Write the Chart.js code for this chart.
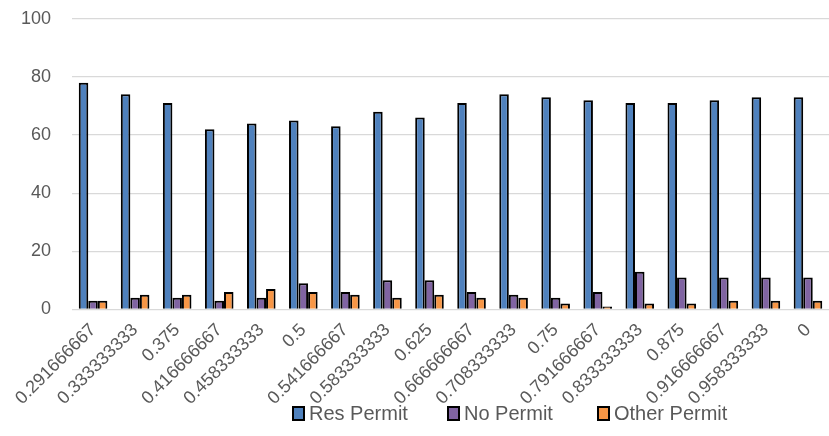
<!DOCTYPE html>
<html lang="en">
<head>
    <meta charset="UTF-8">
    <title>Permit chart</title>
    <script src="https://cdn.jsdelivr.net/npm/chart.js"></script>
    <style>
        body {
            margin: 0;
            background: white;
        }

        .chart-wrap {
            position: relative;
            width: 829px;
            height: 436px;
            overflow: hidden;
        }

        #permitChart {
            position: absolute;
            left: 0;
            top: -13px;
        }

        .legend-item {
            position: absolute;
            top: 402px;
            display: flex;
            align-items: center;
            gap: 4px;
            font-family: "Liberation Sans", Arial, sans-serif;
            font-size: 20px;
            color: #595959;
        }

        .legend-color {
            width: 9px;
            height: 11px;
            border: 2px solid #000;
        }
    </style>
</head>
<body>
    <div class="chart-wrap">
        <canvas id="permitChart" width="829" height="448"></canvas>
        <div class="legend-item" style="left:292px"><span class="legend-color" style="background:#4F81BD"></span>Res Permit</div>
        <div class="legend-item" style="left:447px"><span class="legend-color" style="background:#8064A2"></span>No Permit</div>
        <div class="legend-item" style="left:597px"><span class="legend-color" style="background:#F79646"></span>Other Permit</div>
    </div>

    <script>
        const categories = ['0.291666667', '0.333333333', '0.375', '0.416666667', '0.458333333', '0.5',
            '0.541666667', '0.583333333', '0.625', '0.666666667', '0.708333333', '0.75',
            '0.791666667', '0.833333333', '0.875', '0.916666667', '0.958333333', '0'];
        const resPermit = [78, 74, 71, 62, 64, 65, 63, 68, 66, 71, 74, 73, 72, 71, 71, 72, 73, 73];
        const noPermit = [3, 4, 4, 3, 4, 9, 6, 10, 10, 6, 5, 4, 6, 13, 11, 11, 11, 11];
        const otherPermit = [3, 5, 5, 6, 7, 6, 5, 4, 5, 4, 4, 2, 1, 2, 2, 3, 3, 3];
        const yTicks = [0, 20, 40, 60, 80, 100];

        const font = { family: '"Liberation Sans", Arial, sans-serif', size: 18 };

        new Chart(document.getElementById('permitChart'), {
            type: 'bar',
            data: {
                labels: categories,
                datasets: [
                    { label: 'Res Permit', data: resPermit, backgroundColor: '#4F81BD' },
                    { label: 'No Permit', data: noPermit, backgroundColor: '#8064A2' },
                    { label: 'Other Permit', data: otherPermit, backgroundColor: '#F79646' }
                ].map(d => Object.assign(d, {
                    borderColor: '#000',
                    borderWidth: 2,
                    categoryPercentage: 0.68,
                    barPercentage: 1
                }))
            },
            options: {
                responsive: false,
                animation: false,
                layout: { padding: { top: 0, right: 0, bottom: 24, left: 0 } },
                plugins: {
                    legend: { display: false },
                    tooltip: { enabled: false }
                },
                scales: {
                    x: {
                        grid: { display: false },
                        border: { display: false },
                        ticks: {
                            color: '#595959',
                            font: font,
                            maxRotation: 45,
                            minRotation: 45,
                            autoSkip: false,
                            padding: 2
                        }
                    },
                    y: {
                        min: 0,
                        max: 100,
                        afterBuildTicks: axis => { axis.ticks = yTicks.map(v => ({ value: v })); },
                        grid: { color: '#d9d9d9', lineWidth: 1.3, drawTicks: false },
                        border: { display: false },
                        ticks: {
                            color: '#595959',
                            font: { family: font.family, size: 18 },
                            padding: 21
                        }
                    }
                }
            }
        });
    </script>
</body>
</html>
